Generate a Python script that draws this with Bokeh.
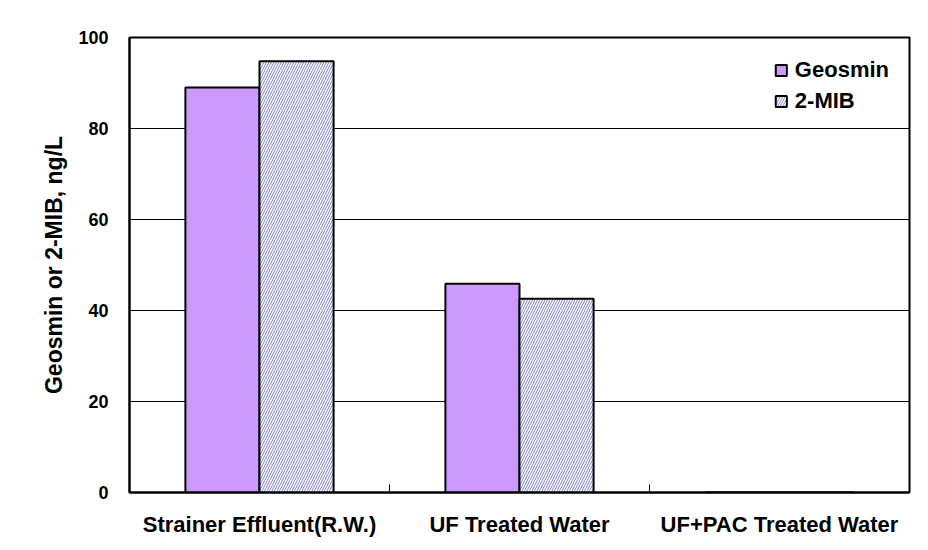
from bokeh.plotting import figure
from bokeh.models import ColumnDataSource, Range1d, FixedTicker, Legend, LegendItem
from bokeh.embed import file_html
from bokeh.resources import INLINE

# ---- data ----
categories = ["Strainer Effluent(R.W.)", "UF Treated Water", "UF+PAC Treated Water"]
geosmin = [89.0, 45.9, 0.0]
mib = [94.8, 42.6, 0.0]
y_ticks = [0, 20, 40, 60, 80, 100]
y_title = "Geosmin or 2-MIB, ng/L"

FONT = "Liberation Sans"
BAR_W = 0.285

centers = [i + 0.5 for i in range(len(categories))]
src_g = ColumnDataSource(dict(x=[c - BAR_W / 2 for c in centers], top=geosmin))
src_m = ColumnDataSource(dict(x=[c + BAR_W / 2 for c in centers], top=mib))

p = figure(width=920, height=542, output_backend="svg", toolbar_location=None,
           x_range=Range1d(0, len(categories)), y_range=Range1d(0, 100),
           min_border_left=129, min_border_right=11, min_border_top=37, min_border_bottom=50)

p.background_fill_color = "white"
p.border_fill_color = "white"
p.outline_line_color = "black"
p.outline_line_width = 2

r_g = p.vbar(x="x", top="top", width=BAR_W, bottom=0, source=src_g,
             fill_color="#CC99FF", line_color="black", line_width=2)
r_m = p.vbar(x="x", top="top", width=BAR_W, bottom=0, source=src_m,
             fill_color="white", line_color="black", line_width=2,
             hatch_pattern="right_diagonal_line", hatch_color="#8080CC",
             hatch_weight=1, hatch_scale=5)

# grid
p.xgrid.visible = False
p.ygrid.grid_line_color = "black"
p.ygrid.grid_line_width = 1
p.yaxis.ticker = FixedTicker(ticks=y_ticks)
p.ygrid.ticker = FixedTicker(ticks=[t for t in y_ticks if 0 < t < 100])

# y axis
p.yaxis.axis_line_width = 2
p.yaxis.axis_line_color = "black"
p.yaxis.major_tick_in = 7
p.yaxis.major_tick_out = 0
p.yaxis.minor_tick_line_color = None
p.yaxis.major_label_text_font = FONT
p.yaxis.major_label_text_font_style = "bold"
p.yaxis.major_label_text_font_size = "18px"
p.yaxis.major_label_text_color = "black"
p.yaxis.major_label_standoff = 21
p.yaxis.axis_label = y_title
p.yaxis.axis_label_text_font = FONT
p.yaxis.axis_label_text_font_style = "bold"
p.yaxis.axis_label_text_font_size = "23px"
p.yaxis.axis_label_text_color = "black"
p.yaxis.axis_label_standoff = 8

# x axis
p.xaxis.ticker = FixedTicker(ticks=centers, minor_ticks=[i for i in range(1, len(categories))])
p.xaxis.major_label_overrides = {c: lab for c, lab in zip(centers, categories)}
p.xaxis.axis_line_width = 2
p.xaxis.axis_line_color = "black"
p.xaxis.major_tick_in = 0
p.xaxis.major_tick_out = 0
p.xaxis.minor_tick_in = 8
p.xaxis.minor_tick_out = 0
p.xaxis.minor_tick_line_color = "black"
p.xaxis.minor_tick_line_width = 1
p.xaxis.major_label_text_font = FONT
p.xaxis.major_label_text_font_style = "bold"
p.xaxis.major_label_text_font_size = "22px"
p.xaxis.major_label_text_color = "black"
p.xaxis.major_label_standoff = 19

legend = Legend(items=[LegendItem(label="Geosmin", renderers=[r_g]),
                       LegendItem(label="2-MIB", renderers=[r_m])],
                location="top_right")
legend.label_text_font = FONT
legend.label_text_font_style = "bold"
legend.label_text_font_size = "22px"
legend.label_text_color = "black"
legend.glyph_width = 14
legend.glyph_height = 14
legend.label_standoff = 7
legend.spacing = 5
legend.padding = 10
legend.margin = 20
legend.border_line_color = None
legend.background_fill_alpha = 0
p.add_layout(legend)

open("out.html", "w").write(file_html(p, INLINE))
